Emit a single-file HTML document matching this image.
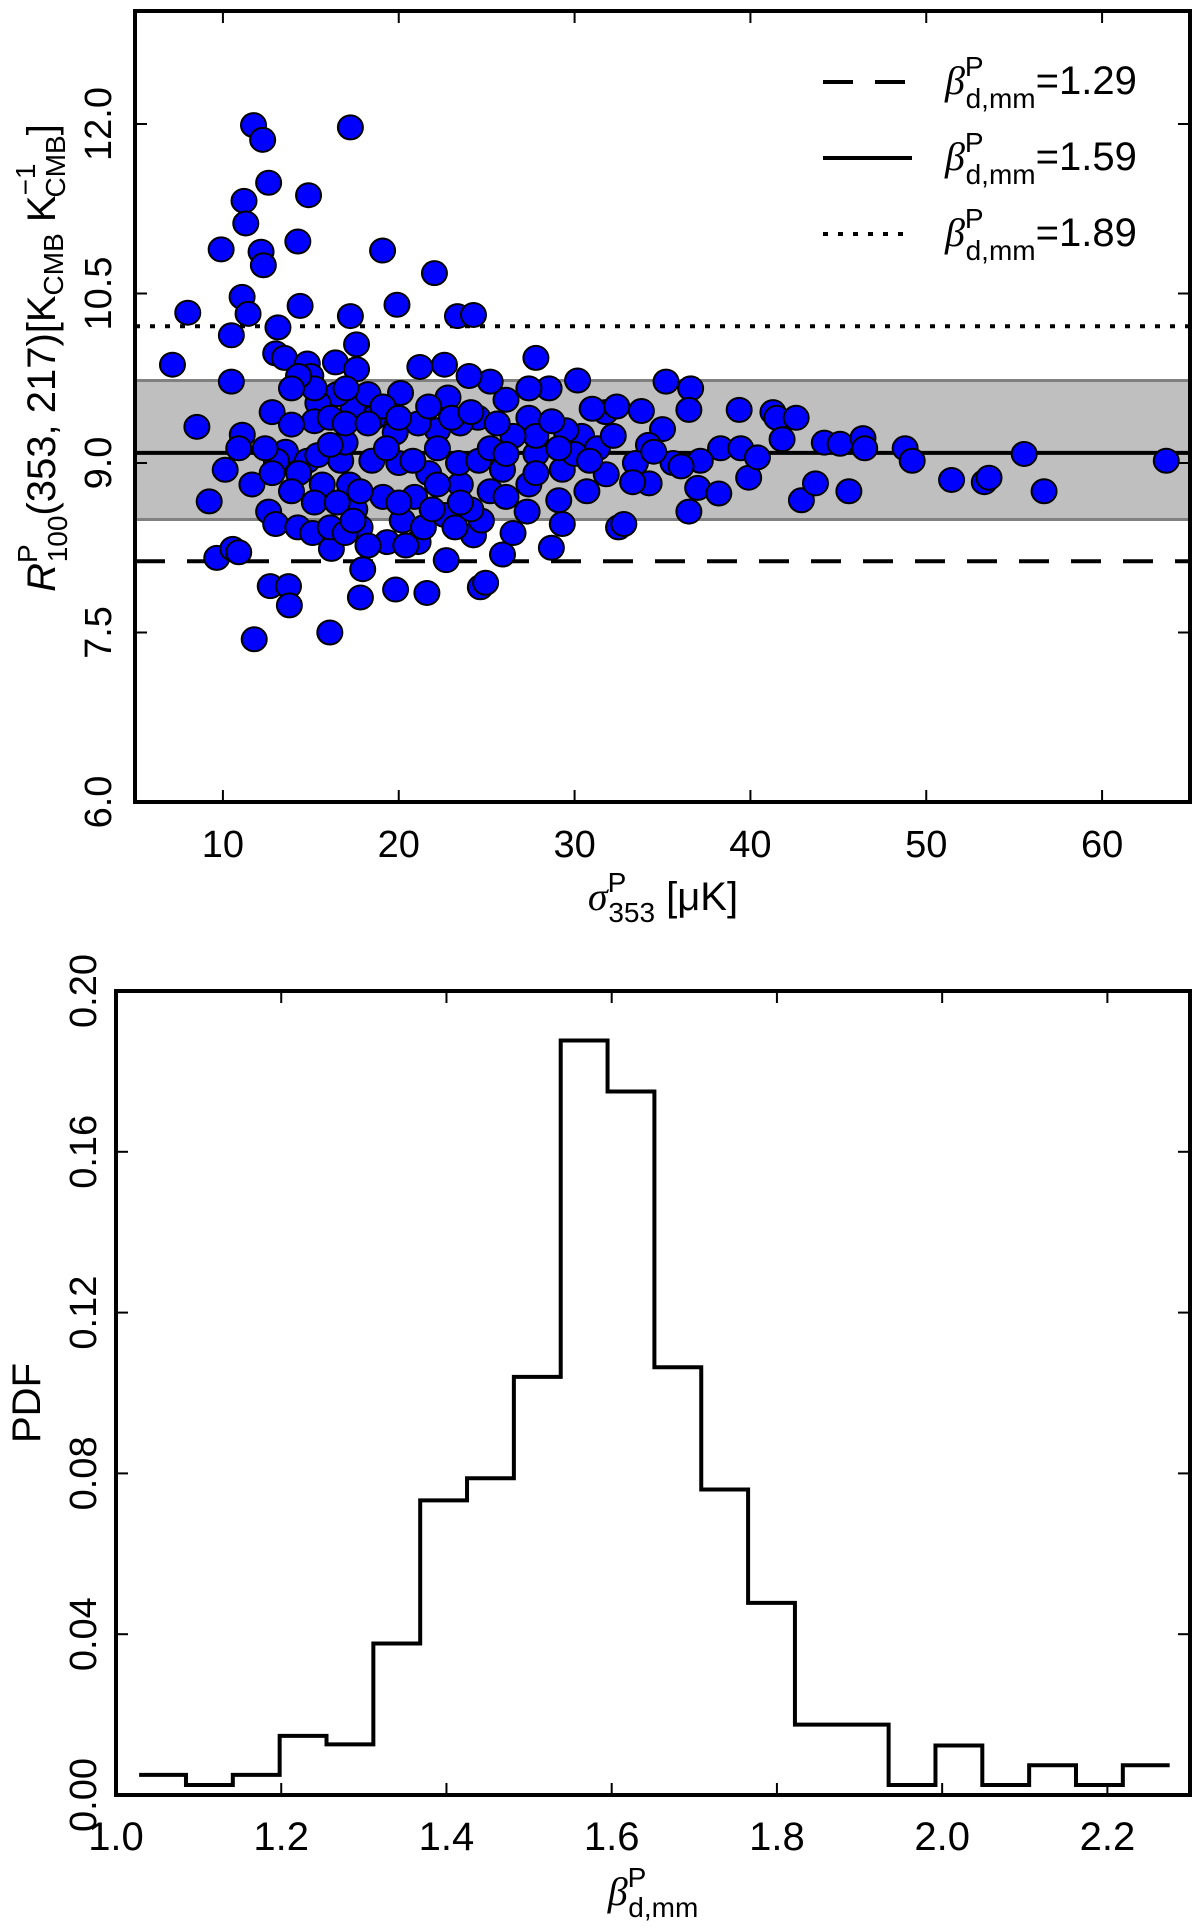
<!DOCTYPE html>
<html><head><meta charset="utf-8"><style>
html,body{margin:0;padding:0;background:#fff}
svg{display:block}
text{font-family:"Liberation Sans",sans-serif;fill:#000}
</style></head><body>
<svg id="fig" width="1200" height="1932" viewBox="0 0 1200 1932" xmlns="http://www.w3.org/2000/svg">
<g id="topPanel"></g>
<g id="botPanel"></g>
</svg>
<script>
// ---- scatter data (sigma_353 [uK], R ratio) ----
const scatterX = [11.74,12.26,17.25,12.6,14.87,11.2,11.3,9.9,14.26,12.17,12.3,19.08,22.03,11.09,8.0,11.43,14.39,19.9,17.25,23.34,24.25,10.48,13.13,7.13,10.48,8.52,10.13,9.22,9.65,10.56,10.9,12.69,13.73,13.78,11.78,16.08,19.82,17.82,21.6,24.64,24.94,25.9,28.68,32.5,32.8,35.2,36.6,36.5,39.36,41.28,41.5,42.6,41.8,44.2,45.1,46.4,46.5,48.8,49.2,51.44,53.3,53.57,55.57,56.7,63.65,45.6,42.9,43.7,39.9,36.5,38.3,39.45,40.4,27.8,30.17,22.6,21.2,20.1,16.4,17.6,17.6,13.0,13.5,14.8,15.0,12.8,11.1,10.9,11.65,12.6,13.0,14.26,15.1,16.17,17.95,19.34,21.1,22.7,24.25,24.7,26.5,29.3,27.3,30.7,31.8,31.76,31.0,32.4,33.8,35.0,34.2,33.46,35.6,37.15,37.0,38.2,34.24,33.3,27.4,28.55,27.4,26.1,25.2,24.0,22.8,24.5,23.5,22.2,21.1,19.8,18.56,17.4,16.5,15.4,15.2,13.9,13.56,14.8,15.4,14.3,15.65,16.7,17.2,17.5,17.8,18.47,19.1,20.0,20.2,20.9,21.7,22.2,23.5,23.4,24.55,25.2,25.9,24.1,22.6,21.4,25.2,27.4,27.8,29.3,29.1,30.4,29.5,27.8,26.5,28.7,26.1,31.3,32.2,34.5,36.06,16.95,16.1,16.1,16.95,18.25,19.1,19.99,21.7,23.0,24.1,25.6,13.9,13.04,12.8,12.4,15.2,16.5,17.8,16.1,16.95,15.2,14.3,13.9,17.0,18.25,19.3,20.8,22.2,23.5,26.1,27.8,30.0,30.85,29.1,17.4,20.0,21.9,23.2,18.25,20.4];
const scatterY = [11.99,11.86,11.97,11.48,11.37,11.32,11.12,10.89,10.96,10.87,10.75,10.88,10.68,10.47,10.33,10.32,10.39,10.40,10.30,10.30,10.31,10.13,10.20,9.87,9.72,9.32,8.94,8.66,8.16,8.24,8.21,7.91,7.91,7.74,7.44,7.50,7.88,7.81,7.85,7.90,7.94,8.19,8.25,8.43,8.46,9.72,9.66,9.47,9.47,9.45,9.40,9.40,9.21,9.18,9.17,9.22,9.13,9.13,9.02,8.85,8.83,8.87,9.08,8.75,9.02,8.75,8.67,8.82,8.87,8.57,9.13,9.13,9.05,9.93,9.73,9.87,9.85,9.62,9.89,10.05,9.83,9.97,9.93,9.88,9.77,9.45,9.25,9.13,8.81,8.57,8.46,8.43,8.38,8.24,8.06,8.30,8.30,8.14,8.36,8.49,8.38,8.46,8.57,8.75,8.90,9.45,9.48,9.50,9.46,9.30,9.16,9.00,9.00,9.02,8.78,8.73,8.82,8.83,9.40,9.66,9.66,9.56,9.72,9.77,9.58,9.40,9.35,9.29,9.35,9.27,9.40,9.50,9.61,9.53,9.37,9.34,9.10,9.02,9.07,8.91,8.81,9.02,8.81,8.59,8.43,9.02,8.70,9.00,8.49,8.70,8.91,9.13,8.81,9.00,9.02,8.75,8.94,8.59,8.54,8.43,9.13,8.81,9.08,8.94,8.67,9.24,9.29,9.24,9.24,9.37,9.08,9.13,9.24,9.10,8.97,9.18,9.16,9.40,9.35,9.61,9.50,9.40,9.50,9.40,9.45,9.35,8.75,9.02,8.91,9.13,8.65,8.65,8.75,8.43,8.38,9.66,9.77,9.66,9.66,9.35,9.13,9.02,8.81,8.65,8.70,8.91,9.08,9.02,9.13,8.49,8.65,8.59,8.43,8.27,8.27];
const refLabels = ["1.29","1.59","1.89"];
const refValues = [8.13,9.09,10.21];
const bandLow = 8.50, bandHigh = 9.73;
const topXTicks = [10,20,30,40,50,60];
const topYTicks = [6.0,7.5,9.0,10.5,12.0];
// ---- histogram data ----
const binEdgeStart = 1.028, binWidth = 0.0567;
const pdfValues = [0.005,0.0025,0.005,0.0147,0.0126,0.0377,0.0733,0.0788,0.104,0.1877,0.175,0.1064,0.076,0.0478,0.0175,0.0175,0.0025,0.0123,0.0025,0.0074,0.0025,0.0074];
const botXTicks = ["1.0","1.2","1.4","1.6","1.8","2.0","2.2"];
const botYTicks = ["0.00","0.04","0.08","0.12","0.16","0.20"];

const NS="http://www.w3.org/2000/svg";
function mk(parent,tag,attrs,txt){const e=document.createElementNS(NS,tag);for(const k in attrs)e.setAttribute(k,attrs[k]);if(txt!==undefined)e.textContent=txt;parent.appendChild(e);return e;}

// top axes
const T={l:135,r:1190,t:11,b:802,x0:5,x1:65,y0:6,y1:13};
const tx=v=>T.l+(v-T.x0)/(T.x1-T.x0)*(T.r-T.l);
const ty=v=>T.b-(v-T.y0)/(T.y1-T.y0)*(T.b-T.t);
const topG=document.getElementById('topPanel');
const band=mk(topG,'rect',{x:T.l,y:ty(bandHigh),width:T.r-T.l,height:ty(bandLow)-ty(bandHigh),fill:'#bfbfbf',stroke:'#808080','stroke-width':3});


const dashes=['30 22',null,'5 10'];
refValues.forEach((v,i)=>{
  const a={x1:T.l,x2:T.r,y1:ty(v),y2:ty(v),stroke:'#000','stroke-width':4};
  if(dashes[i])a['stroke-dasharray']=dashes[i];
  const l=mk(topG,'line',a);
  
  
});
scatterX.forEach((x,i)=>{
  const c=mk(topG,'ellipse',{cx:tx(x),cy:ty(scatterY[i]),rx:12.5,ry:12,fill:'#0000ff',stroke:'#000','stroke-width':2});
  
  
});
const tf=mk(topG,'rect',{x:T.l,y:T.t,width:T.r-T.l,height:T.b-T.t,fill:'none',stroke:'#000','stroke-width':4});


topXTicks.forEach(v=>{
  mk(topG,'line',{x1:tx(v),x2:tx(v),y1:T.b,y2:T.b-12,stroke:'#000','stroke-width':2});
  mk(topG,'line',{x1:tx(v),x2:tx(v),y1:T.t,y2:T.t+12,stroke:'#000','stroke-width':2});
  const t=mk(topG,'text',{x:tx(v),y:857,'text-anchor':'middle','font-size':38},String(v));
  
  
});
topYTicks.forEach(v=>{
  mk(topG,'line',{x1:T.l,x2:T.l+12,y1:ty(v),y2:ty(v),stroke:'#000','stroke-width':2});
  mk(topG,'line',{x1:T.r,x2:T.r-12,y1:ty(v),y2:ty(v),stroke:'#000','stroke-width':2});
  const t=mk(topG,'text',{x:0,y:0,'text-anchor':'middle','font-size':38,transform:`translate(111,${ty(v)}) rotate(-90)`},v.toFixed(1));
  
  
});
// legend
refLabels.forEach((lab,i)=>{
  const y=[82,158,234][i];
  const a={x1:823,x2:912,y1:y,y2:y,stroke:'#000','stroke-width':4};
  if(dashes[i])a['stroke-dasharray']=dashes[i];
  const l=mk(topG,'line',a);
  
  
  const t=mk(topG,'text',{x:945,y:y+12,'font-size':40});
  
  
  mk(t,'tspan',{'font-family':'Liberation Serif','font-style':'italic'},'β');
  mk(t,'tspan',{'font-size':28,dy:-18},'P');
  mk(t,'tspan',{'font-size':28,dx:-18,dy:32},'d,mm');
  mk(t,'tspan',{dy:-14},'='+lab);
});
// x title
const xt=mk(topG,'text',{x:663,y:910,'text-anchor':'middle','font-size':40});


mk(xt,'tspan',{'font-family':'Liberation Serif','font-style':'italic'},'σ');
mk(xt,'tspan',{'font-size':28,dy:-18},'P');
mk(xt,'tspan',{'font-size':28,dx:-18,dy:30},'353');
mk(xt,'tspan',{dy:-12},' [μK]');
// y title
const yt=mk(topG,'text',{x:0,y:0,'text-anchor':'middle','font-size':40,transform:'translate(55,358) rotate(-90)'});


mk(yt,'tspan',{'font-style':'italic'},'R');
mk(yt,'tspan',{'font-size':28,dy:-18},'P');
mk(yt,'tspan',{'font-size':28,dx:-18,dy:30},'100');
mk(yt,'tspan',{dy:-12},'(353, 217)[K');
mk(yt,'tspan',{'font-size':28,dy:8},'CMB');
mk(yt,'tspan',{dy:-8},' K');
mk(yt,'tspan',{'font-size':28,dy:-20},'−1');
mk(yt,'tspan',{'font-size':28,dx:-34,dy:30},'CMB');
mk(yt,'tspan',{dy:-10},']');

// bottom axes
const B={l:116,r:1190,t:991,b:1795,x0:1.0,x1:2.3,y0:0,y1:0.2};
const bx=v=>B.l+(v-B.x0)/(B.x1-B.x0)*(B.r-B.l);
const by=v=>B.b-(v-B.y0)/(B.y1-B.y0)*(B.b-B.t);
const botG=document.getElementById('botPanel');
let d='';
pdfValues.forEach((v,i)=>{
  const x0=bx(binEdgeStart+i*binWidth), x1=bx(binEdgeStart+(i+1)*binWidth);
  d+=(i===0?`M${x0},${by(v)}`:`L${x0},${by(v)}`)+`L${x1},${by(v)}`;
});
const hp=mk(botG,'path',{d:d,fill:'none',stroke:'#000','stroke-width':4,'stroke-linejoin':'miter'});


const bf=mk(botG,'rect',{x:B.l,y:B.t,width:B.r-B.l,height:B.b-B.t,fill:'none',stroke:'#000','stroke-width':4});


botXTicks.forEach(s=>{
  const v=parseFloat(s);
  mk(botG,'line',{x1:bx(v),x2:bx(v),y1:B.b,y2:B.b-12,stroke:'#000','stroke-width':2});
  mk(botG,'line',{x1:bx(v),x2:bx(v),y1:B.t,y2:B.t+12,stroke:'#000','stroke-width':2});
  const t=mk(botG,'text',{x:bx(v),y:1850,'text-anchor':'middle','font-size':40,'font-family':'Liberation Serif'},s);
  
  
});
botYTicks.forEach(s=>{
  const v=parseFloat(s);
  mk(botG,'line',{x1:B.l,x2:B.l+12,y1:by(v),y2:by(v),stroke:'#000','stroke-width':2});
  mk(botG,'line',{x1:B.r,x2:B.r-12,y1:by(v),y2:by(v),stroke:'#000','stroke-width':2});
  const t=mk(botG,'text',{x:0,y:0,'text-anchor':'middle','font-size':38,transform:`translate(96,${by(v)}) rotate(-90)`},s);
  
  
});
const pt=mk(botG,'text',{x:0,y:0,'text-anchor':'middle','font-size':40,transform:'translate(40,1403) rotate(-90)'},'PDF');


const bt=mk(botG,'text',{x:653,y:1905,'text-anchor':'middle','font-size':40});


mk(bt,'tspan',{'font-family':'Liberation Serif','font-style':'italic'},'β');
mk(bt,'tspan',{'font-size':28,dy:-18},'P');
mk(bt,'tspan',{'font-size':28,dx:-18,dy:30},'d,mm');
</script>
</body></html>
